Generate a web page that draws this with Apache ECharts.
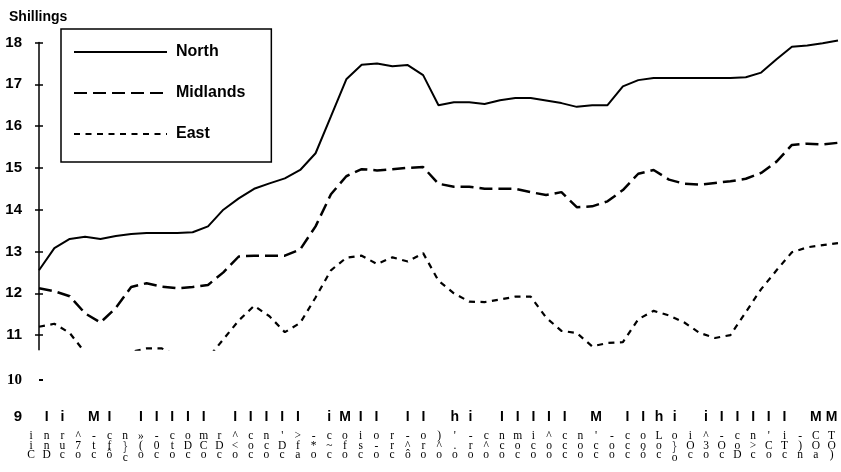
<!DOCTYPE html>
<html>
<head>
<meta charset="utf-8">
<script src="https://cdn.jsdelivr.net/npm/echarts@6.0.0/dist/echarts.min.js"></script>
<style>
  html, body { margin: 0; padding: 0; background: #fff; }
  #chart { width: 841px; height: 472px; }
</style>
</head>
<body>
<div id="chart"></div>
<script>
// price per period, shillings
const northValues = [12.55, 13.08, 13.3, 13.35, 13.3, 13.37, 13.42, 13.44, 13.44, 13.44, 13.46, 13.6, 14.0, 14.27,
  14.5, 14.63, 14.75, 14.95, 15.35, 16.23, 17.12, 17.47, 17.5, 17.43, 17.46, 17.22, 16.5, 16.57, 16.57, 16.53,
  16.62, 16.67, 16.67, 16.61, 16.55, 16.46, 16.5, 16.5, 16.95, 17.1, 17.15, 17.15, 17.15, 17.15, 17.15, 17.15,
  17.17, 17.28, 17.6, 17.9, 17.93, 17.98, 18.05];
const midlandsValues = [12.12, 12.05, 11.93, 11.52, 11.3, 11.65, 12.15, 12.24, 12.16, 12.12, 12.15, 12.2, 12.5, 12.88,
  12.9, 12.9, 12.9, 13.05, 13.6, 14.37, 14.8, 14.97, 14.94, 14.97, 15.0, 15.02, 14.62, 14.55, 14.55, 14.5,
  14.5, 14.5, 14.42, 14.35, 14.42, 14.06, 14.08, 14.2, 14.47, 14.86, 14.95, 14.72, 14.62, 14.6, 14.64, 14.68,
  14.74, 14.88, 15.15, 15.55, 15.58, 15.56, 15.6];
const eastValues = [11.2, 11.27, 11.05, 10.58, 10.4, 10.3, 10.6, 10.68, 10.68, 10.5, 10.4, 10.45, 10.9, 11.35,
  11.7, 11.45, 11.07, 11.29, 11.9, 12.55, 12.85, 12.9, 12.7, 12.86, 12.76, 12.96, 12.3, 12.0, 11.8, 11.79,
  11.85, 11.92, 11.92, 11.42, 11.1, 11.05, 10.73, 10.81, 10.83, 11.38, 11.58, 11.47, 11.3, 11.05, 10.93, 11.0,
  11.55, 12.1, 12.55, 12.98, 13.1, 13.15, 13.2];

const yTicks = [11, 12, 13, 14, 15, 16, 17, 18];
const lowerTicks = [9, 10];

// x-axis text as it appears in the scan (one entry per column)
const tickMarks = ['', 'I', 'i', '', 'M', 'I', '', 'I', 'I', 'I', 'I', 'I', '', 'I', 'I', 'I', 'I', 'I', '', 'i',
  'M', 'I', 'I', '', 'I', 'I', '', 'h', 'i', '', 'I', 'I', 'I', 'I', 'I', '', 'M', '', 'I', 'I', 'h', 'i', '', 'i',
  'I', 'I', 'I', 'I', 'I', '', 'M', 'M'];
const labelRow1 = ['i', 'n', 'r', '^', '-', 'c', 'n', '»', '-', 'c', 'o', 'm', 'r', '^', 'c', 'n', "'", '>', '-', 'c',
  'o', 'i', 'o', 'r', '-', 'o', ')', "'", '-', 'c', 'n', 'm', 'i', '^', 'c', 'n', "'", '-', 'c', 'o', 'L', 'o', 'i',
  '^', '-', 'c', 'n', "'", 'i', '-', 'C', 'T'];
const labelRow2 = ['i', 'n', 'u', '7', 't', 'f', '}', '(', '0', 't', 'D', 'C', 'D', '<', 'o', 'c', 'D', 'f', '*', '~',
  'f', 's', '-', 'r', '^', 'r', '^', '.', 'r', '^', 'c', 'o', 'c', 'o', 'c', 'o', 'c', 'o', 'c', 'o', 'o', '}', 'O',
  '3', 'O', 'o', '>', 'C', 'T', ')', 'O', 'O'];
const labelRow3 = ['C', 'D', 'c', 'o', 'c', 'ô', 'c', 'o', 'c', 'o', 'c', 'o', 'c', 'o', 'c', 'o', 'c', 'a', 'o', 'c',
  'o', 'c', 'o', 'c', 'ô', 'o', 'o', 'o', 'o', 'o', 'o', 'c', 'o', 'o', 'c', 'o', 'c', 'o', 'c', 'ó', 'c', 'o', 'c',
  'o', 'c', 'D', 'c', 'o', 'c', 'n', 'a', ')'];

const periods = northValues.map((_, i) => i);
const columns = labelRow1.map((_, i) => i);

const chart = echarts.init(document.getElementById('chart'), null, { renderer: 'canvas' });

const sans = 'Liberation Sans, Arial, sans-serif';
const serif = 'Liberation Serif, Times New Roman, serif';

const option = {
  animation: false,
  backgroundColor: '#fff',
  title: {
    text: 'Shillings',
    left: 4,
    top: 5,
    textStyle: { fontFamily: sans, fontSize: 14, fontWeight: 'bold', color: '#000' }
  },
  legend: {
    data: ['North', 'Midlands', 'East'],
    orient: 'vertical',
    left: 61,
    top: 29,
    padding: [15, 26, 20, 12],
    itemWidth: 93,
    itemHeight: 16,
    itemGap: 25,
    borderColor: '#000',
    borderWidth: 1.5,
    borderRadius: 0,
    // line only, no marker in the key
    itemStyle: { color: 'rgba(0,0,0,0)', borderWidth: 0, opacity: 0 },
    textStyle: { fontFamily: sans, fontSize: 16, fontWeight: 'bold', color: '#000', lineHeight: 16, padding: [0, 0, 0, 4] }
  },
  grid: [
    // main plot
    { left: 39, right: 3, top: 42.5, height: 307.2 },
    // lower stub for the 10 / 9 labels
    { left: 39, right: 3, top: 380, height: 37 },
    // scanned x labels
    { left: 23.15, right: 1.55, top: 380, height: 35 }
  ],
  xAxis: [
    { type: 'category', gridIndex: 0, data: periods, boundaryGap: false, show: false },
    { type: 'category', gridIndex: 1, data: periods, boundaryGap: false, show: false },
    {
      type: 'category',
      gridIndex: 2,
      data: columns,
      boundaryGap: true,
      axisLine: { show: false },
      axisTick: { show: false },
      axisLabel: {
        interval: 0,
        margin: -12.25,
        hideOverlap: false,
        formatter: (v, i) => `{t|${tickMarks[i] || ' '}}\n{g|${labelRow1[i]}}\n{g|${labelRow2[i]}}\n{g|${labelRow3[i]}}`,
        rich: {
          t: { fontFamily: sans, fontWeight: 'bold', fontSize: 14, lineHeight: 28.5, color: '#000' },
          g: { fontFamily: serif, fontSize: 11.5, lineHeight: 9.5, color: '#000' }
        }
      }
    }
  ],
  yAxis: [
    {
      type: 'value',
      gridIndex: 0,
      position: 'left',
      min: 10.65,
      max: 18,
      splitLine: { show: false },
      axisLine: { show: true, lineStyle: { color: '#000', width: 1.5 } },
      axisTick: { show: true, customValues: yTicks, length: 4, lineStyle: { color: '#000', width: 1.5 } },
      axisLabel: {
        customValues: yTicks,
        margin: 17,
        fontFamily: sans,
        fontSize: 15,
        fontWeight: 'bold',
        color: '#000'
      }
    },
    {
      // inner half of the cross ticks
      type: 'value',
      gridIndex: 0,
      position: 'left',
      min: 10.65,
      max: 18,
      splitLine: { show: false },
      axisLine: { show: false },
      axisTick: { show: true, inside: true, customValues: yTicks, length: 4, lineStyle: { color: '#000', width: 1.5 } },
      axisLabel: { show: false }
    },
    {
      type: 'value',
      gridIndex: 1,
      position: 'left',
      min: 9,
      max: 10,
      splitLine: { show: false },
      axisLine: { show: false },
      axisTick: { show: true, inside: true, customValues: [10], length: 4, lineStyle: { color: '#000', width: 2 } },
      axisLabel: {
        customValues: lowerTicks,
        margin: 17,
        formatter: (v) => (v === 10 ? '{s|10}' : '{b|' + v + '}'),
        rich: {
          s: { fontFamily: serif, fontSize: 15, fontWeight: 'bold', color: '#000' },
          b: { fontFamily: sans, fontSize: 15, fontWeight: 'bold', color: '#000' }
        }
      }
    },
    { type: 'value', gridIndex: 2, show: false }
  ],
  series: [
    {
      name: 'North',
      type: 'line',
      xAxisIndex: 0,
      yAxisIndex: 0,
      data: northValues,
      symbol: 'none',
      clip: false,
      lineStyle: { color: '#000', width: 2 },
      itemStyle: { color: '#000' }
    },
    {
      name: 'Midlands',
      type: 'line',
      xAxisIndex: 0,
      yAxisIndex: 0,
      data: midlandsValues,
      symbol: 'none',
      lineStyle: { color: '#000', width: 2.5, type: [13, 6] },
      itemStyle: { color: '#000' }
    },
    {
      name: 'East',
      type: 'line',
      xAxisIndex: 0,
      yAxisIndex: 0,
      data: eastValues,
      symbol: 'none',
      lineStyle: { color: '#000', width: 2.2, type: [6, 5.5] },
      itemStyle: { color: '#000' }
    }
  ]
};

chart.setOption(option);
</script>
</body>
</html>
